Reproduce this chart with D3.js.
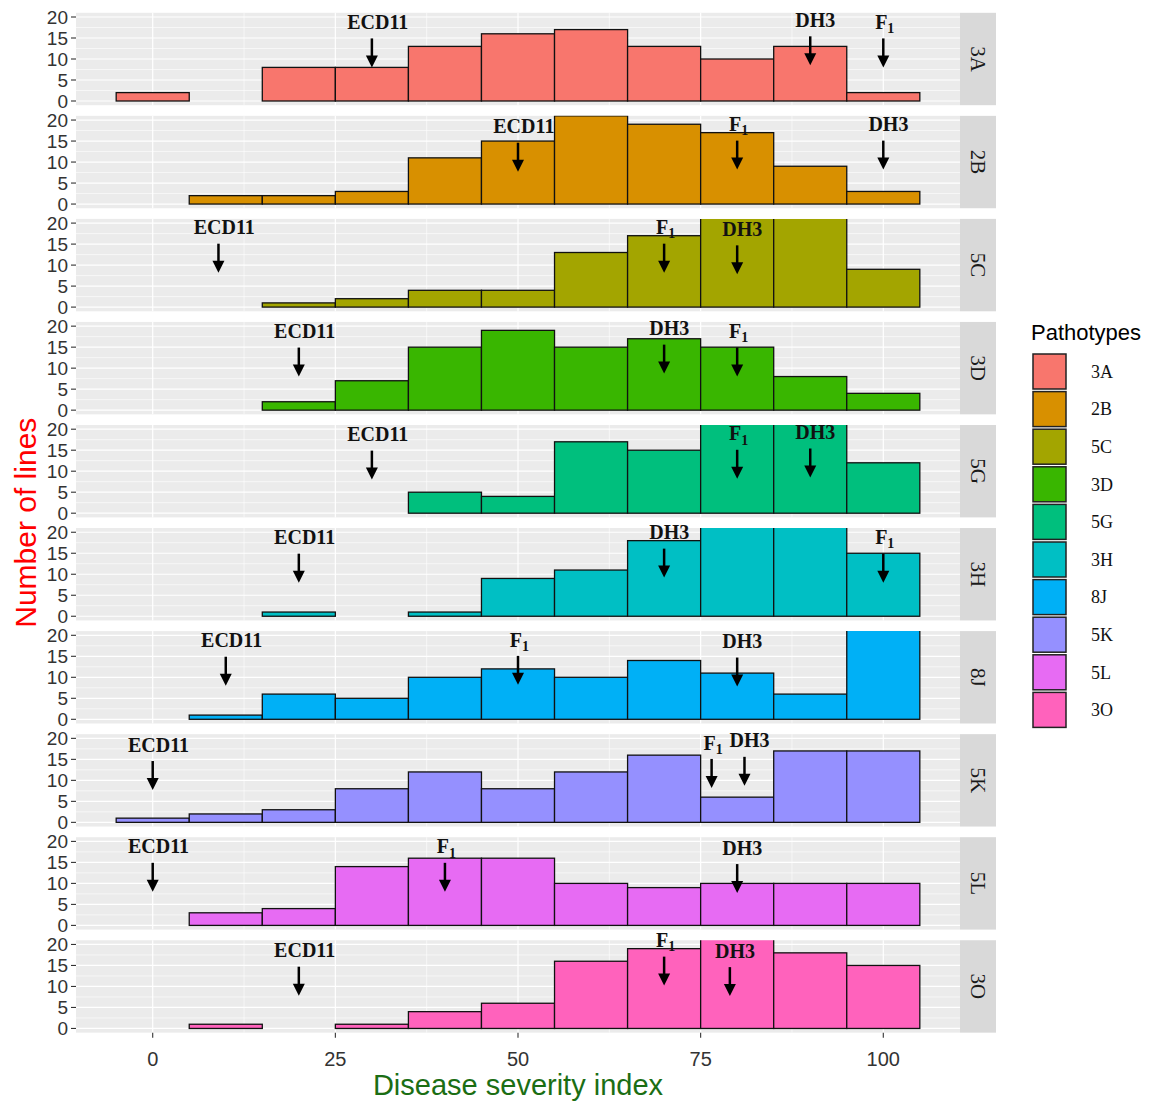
<!DOCTYPE html>
<html>
<head>
<meta charset="utf-8">
<script src="https://cdn.jsdelivr.net/npm/d3@7"></script>
<style>
  html, body { margin: 0; padding: 0; background: #fff; }
  svg { display: block; }
</style>
</head>
<body>
<svg id="chart" width="1149" height="1103"></svg>
<script>
// ---------------- DATA ----------------
const pathotypes = ["3A", "2B", "5C", "3D", "5G", "3H", "8J", "5K", "5L", "3O"];
const binCenters = [0, 10, 20, 30, 40, 50, 60, 70, 80, 90, 100];

const counts3A = [2, 0, 8, 8, 13, 16, 17, 13, 10, 13, 2];
const counts2B = [0, 2, 2, 3, 11, 15, 21, 19, 17, 9, 3];
const counts5C = [0, 0, 1, 2, 4, 4, 13, 17, 23, 24, 9];
const counts3D = [0, 0, 2, 7, 15, 19, 15, 17, 15, 8, 4];
const counts5G = [0, 0, 0, 0, 5, 4, 17, 15, 23, 22, 12];
const counts3H = [0, 0, 1, 0, 1, 9, 11, 18, 23, 24, 15];
const counts8J = [0, 1, 6, 5, 10, 12, 10, 14, 11, 6, 25];
const counts5K = [1, 2, 3, 8, 12, 8, 12, 16, 6, 17, 17];
const counts5L = [0, 3, 4, 14, 16, 16, 10, 9, 10, 10, 10];
const counts3O = [0, 1, 0, 1, 4, 6, 16, 19, 22, 18, 15];

const countsByPathotype = [counts3A, counts2B, counts5C, counts3D, counts5G,
                           counts3H, counts8J, counts5K, counts5L, counts3O];

// Parent-line markers: disease severity index of each parent per pathotype
const ecd11X = [30, 50, 9, 20, 30, 20, 10, 0, 0, 20];
const dh3X   = [90, 100, 80, 70, 90, 70, 80, 81, 80, 79];
const f1X    = [100, 80, 70, 80, 80, 100, 50, 76.5, 40, 70];
// label heights (in "number of lines" units)
const ecd11Y = [18.8, 18.5, 19, 18.8, 18.8, 18.8, 18.8, 18.5, 18.8, 18.6];
const dh3Y   = [19.3, 19, 18.6, 19.5, 19.3, 20, 18.6, 19.5, 18.5, 18.5];
const f1Y    = [18.8, 19, 19, 18.8, 19, 18.8, 19, 19, 18.8, 21];

const xTicks = [0, 25, 50, 75, 100];
const yTicks = [0, 5, 10, 15, 20];
const xMinor = [12.5, 37.5, 62.5, 87.5];
const yMinor = [2.5, 7.5, 12.5, 17.5];

const colors = ["#F8766D", "#D89000", "#A3A500", "#39B600", "#00BF7D",
                "#00BFC4", "#00B0F6", "#9590FF", "#E76BF3", "#FF62BC"];

// ---------------- LAYOUT ----------------
const svg = d3.select("#chart");
svg.append("rect").attr("width", 1149).attr("height", 1103).attr("fill", "#fff");

const panelLeft = 76, panelRight = 960, stripW = 36;
const panelTop0 = 12.8, panelStep = 103.05, panelH = 92.4;

const x = d3.scaleLinear().domain([-10.5, 110.5]).range([panelLeft, panelRight]);
const y = d3.scaleLinear().domain([-1, 21]).range([panelH, 0]);
const color = d3.scaleOrdinal().domain(pathotypes).range(colors);

const serif = "'Liberation Serif', 'Times New Roman', serif";
const sans = "'Liberation Sans', Arial, sans-serif";

pathotypes.forEach((p, i) => {
  const top = panelTop0 + i * panelStep;
  const g = svg.append("g").attr("transform", `translate(0,${top})`);

  // panel background
  g.append("rect").attr("x", panelLeft).attr("y", 0)
    .attr("width", panelRight - panelLeft).attr("height", panelH).attr("fill", "#EBEBEB");

  // minor grid
  g.selectAll(".ymin").data(yMinor).enter().append("line")
    .attr("x1", panelLeft).attr("x2", panelRight)
    .attr("y1", d => y(d)).attr("y2", d => y(d))
    .attr("stroke", "#fff").attr("stroke-width", 0.6);
  g.selectAll(".xmin").data(xMinor).enter().append("line")
    .attr("y1", 0).attr("y2", panelH)
    .attr("x1", d => x(d)).attr("x2", d => x(d))
    .attr("stroke", "#fff").attr("stroke-width", 0.6);
  // major grid
  g.selectAll(".ymaj").data(yTicks).enter().append("line")
    .attr("x1", panelLeft).attr("x2", panelRight)
    .attr("y1", d => y(d)).attr("y2", d => y(d))
    .attr("stroke", "#fff").attr("stroke-width", 1.2);
  g.selectAll(".xmaj").data(xTicks).enter().append("line")
    .attr("y1", 0).attr("y2", panelH)
    .attr("x1", d => x(d)).attr("x2", d => x(d))
    .attr("stroke", "#fff").attr("stroke-width", 1.2);

  // clip
  const cid = "clip" + i;
  g.append("clipPath").attr("id", cid).append("rect")
    .attr("x", panelLeft).attr("y", 0).attr("width", panelRight - panelLeft).attr("height", panelH);

  // bars
  const bars = binCenters.map((c, k) => ({ c, n: countsByPathotype[i][k] }));
  g.append("g").attr("clip-path", `url(#${cid})`)
    .selectAll("rect").data(bars).enter().append("rect")
    .attr("x", d => x(d.c - 5))
    .attr("width", d => x(d.c + 5) - x(d.c - 5))
    .attr("y", d => y(d.n))
    .attr("height", d => y(0) - y(d.n))
    .attr("fill", color(p))
    .attr("stroke", "#111").attr("stroke-width", 1.3);

  // y axis ticks
  const yAx = g.append("g");
  yTicks.forEach(t => {
    yAx.append("line").attr("x1", panelLeft - 5).attr("x2", panelLeft)
      .attr("y1", y(t)).attr("y2", y(t)).attr("stroke", "#333").attr("stroke-width", 1.1);
    yAx.append("text").attr("x", panelLeft - 8).attr("y", y(t)).attr("dy", "0.36em")
      .attr("text-anchor", "end").attr("font-family", sans).attr("font-size", 19)
      .attr("fill", "#333").text(t);
  });

  // strip
  g.append("rect").attr("x", panelRight).attr("y", 0).attr("width", stripW)
    .attr("height", panelH).attr("fill", "#D9D9D9");
  g.append("text")
    .attr("transform", `translate(${panelRight + stripW / 2},${panelH / 2}) rotate(90)`)
    .attr("text-anchor", "middle").attr("dy", "0.35em")
    .attr("font-family", serif).attr("font-size", 21).attr("fill", "#1A1A1A").text(p);

  // annotations
  const ann = [
    { lab: "ECD11", xv: ecd11X[i], yv: ecd11Y[i], off: 0.8 },
    { lab: "DH3", xv: dh3X[i], yv: dh3Y[i], off: 0.7 },
    { lab: "F1", xv: f1X[i], yv: f1Y[i], off: 0.2 }
  ];
  ann.forEach(a => {
    const ax = x(a.xv);
    const yTop = y(a.yv - 3.9), yTip = y(a.yv - 10.8);
    g.append("line").attr("x1", ax).attr("x2", ax).attr("y1", yTop).attr("y2", yTip - 9)
      .attr("stroke", "#000").attr("stroke-width", 2.5);
    g.append("path")
      .attr("d", `M${ax - 6},${yTip - 12} L${ax + 6},${yTip - 12} L${ax},${yTip} Z`)
      .attr("fill", "#000");
    const t = g.append("text").attr("x", x(a.xv + a.off)).attr("y", y(a.yv)).attr("dy", "0.35em")
      .attr("text-anchor", "middle").attr("font-family", serif).attr("font-weight", "bold")
      .attr("font-size", 20).attr("fill", "#111");
    if (a.lab === "F1") {
      t.append("tspan").text("F");
      t.append("tspan").attr("font-size", 14).attr("dy", "0.3em").text("1");
    } else {
      t.text(a.lab);
    }
  });

  // x axis on the last panel
  if (i === pathotypes.length - 1) {
    const xa = g.append("g");
    xTicks.forEach(t => {
      xa.append("line").attr("x1", x(t)).attr("x2", x(t))
        .attr("y1", panelH).attr("y2", panelH + 5).attr("stroke", "#333").attr("stroke-width", 1.1);
      xa.append("text").attr("x", x(t)).attr("y", panelH + 33)
        .attr("text-anchor", "middle").attr("font-family", sans).attr("font-size", 20)
        .attr("fill", "#333").text(t);
    });
  }
});

// axis titles
svg.append("text").attr("x", (panelLeft + panelRight) / 2).attr("y", 1095)
  .attr("text-anchor", "middle").attr("font-family", sans).attr("font-size", 29)
  .attr("fill", "#1B6E14").text("Disease severity index");
svg.append("text")
  .attr("transform", `translate(36,${panelTop0 + (9 * panelStep + panelH) / 2}) rotate(-90)`)
  .attr("text-anchor", "middle").attr("font-family", sans).attr("font-size", 30)
  .attr("fill", "#FF0000").text("Number of lines");

// legend
const lg = svg.append("g");
lg.append("text").attr("x", 1031).attr("y", 340).attr("font-family", sans).attr("font-size", 22)
  .attr("fill", "#000").text("Pathotypes");
pathotypes.forEach((p, i) => {
  const ky = 354 + i * 37.6;
  lg.append("rect").attr("x", 1033).attr("y", ky).attr("width", 33).attr("height", 35)
    .attr("fill", color(p)).attr("stroke", "#222").attr("stroke-width", 1.5);
  lg.append("text").attr("x", 1091).attr("y", ky + 17.5).attr("dy", "0.35em")
    .attr("font-family", serif).attr("font-size", 18).attr("fill", "#111").text(p);
});
</script>
</body>
</html>
